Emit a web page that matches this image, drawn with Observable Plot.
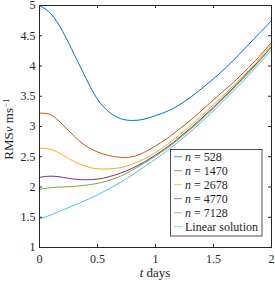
<!DOCTYPE html>
<html><head><meta charset="utf-8">
<script src="https://cdn.jsdelivr.net/npm/d3@7"></script>
<script src="https://cdn.jsdelivr.net/npm/@observablehq/plot@0.6"></script>
<style>html,body{margin:0;padding:0;background:#fff;}</style>
</head><body><div id="chart"></div>
<script>
const tDays = [0,0.1,0.2,0.3,0.4,0.5,0.6,0.7,0.8,0.9,1.0,1.1,1.2,1.3,1.4,1.5,1.6,1.7,1.8,1.9,2.0];
const n528  = [5.00,4.86,4.57,4.19,3.80,3.45,3.24,3.13,3.10,3.12,3.18,3.25,3.35,3.48,3.63,3.79,3.96,4.15,4.35,4.55,4.75];
const n1470 = [3.22,3.19,3.03,2.84,2.68,2.58,2.52,2.49,2.50,2.57,2.68,2.80,2.95,3.10,3.27,3.44,3.61,3.78,3.97,4.17,4.39];
const n2678 = [2.64,2.62,2.53,2.42,2.34,2.30,2.30,2.32,2.38,2.46,2.57,2.70,2.85,3.01,3.18,3.36,3.54,3.73,3.92,4.13,4.35];
const n4770 = [2.16,2.18,2.16,2.13,2.12,2.13,2.17,2.23,2.31,2.41,2.53,2.66,2.81,2.97,3.14,3.32,3.51,3.70,3.90,4.10,4.32];
const n7128 = [1.96,1.99,2.00,2.01,2.03,2.06,2.11,2.18,2.28,2.39,2.51,2.64,2.79,2.95,3.12,3.30,3.49,3.68,3.88,4.09,4.31];
const linearSol = [1.47,1.54,1.62,1.70,1.78,1.87,1.97,2.08,2.20,2.33,2.46,2.60,2.75,2.91,3.08,3.26,3.45,3.64,3.84,4.05,4.27];

const seriesValues = [n528, n1470, n2678, n4770, n7128, linearSol];
const seriesNames = ["n = 528","n = 1470","n = 2678","n = 4770","n = 7128","Linear solution"];
const seriesColors = ["#0072BD","#D95319","#EDB120","#7E2F8E","#77AC30","#4DBEEE"];
const xTicks = [0,0.5,1,1.5,2];
const yTicks = [1,1.5,2,2.5,3,3.5,4,4.5,5];

const W = 275, H = 282, mL = 39, mR = 4, mT = 5, mB = 35;
const fw = W - mL - mR, fh = H - mT - mB;
const ink = "#262626";
const font = "'Liberation Serif', 'DejaVu Serif', serif";

const data = [];
seriesValues.forEach((vals, i) => vals.forEach((v, j) => data.push({t: tDays[j], v, s: seriesNames[i]})));

const svgEl = Plot.plot({
  width: W, height: H, marginLeft: mL, marginRight: mR, marginTop: mT, marginBottom: mB,
  style: {fontFamily: font, fontSize: "12px", color: ink, background: "#fff"},
  x: {domain: [0, 2], label: null},
  y: {domain: [1, 5], label: null},
  color: {domain: seriesNames, range: seriesColors},
  marks: [
    Plot.axisX({ticks: xTicks, tickSize: 0, tickPadding: 7, label: null, tickFormat: d => String(d), fontSize: 12}),
    Plot.axisY({ticks: yTicks, tickSize: 0, tickPadding: 4, label: null, tickFormat: d => String(d), fontSize: 12}),
    Plot.line(data, {x: "t", y: "v", z: "s", stroke: "s", curve: "natural", strokeWidth: 1}),
    Plot.tickX(xTicks, {x: d => d, insetTop: fh - 3, stroke: ink}),
    Plot.tickX(xTicks, {x: d => d, insetBottom: fh - 3, stroke: ink}),
    Plot.tickY(yTicks, {y: d => d, insetRight: fw - 3, stroke: ink}),
    Plot.tickY(yTicks, {y: d => d, insetLeft: fw - 3, stroke: ink}),
    Plot.frame({stroke: ink, strokeWidth: 1})
  ]
});

const svg = d3.select(svgEl);
svg.selectAll("text").style("font-family", font).style("font-size", "12px");

// y label
const yl = svg.append("text")
  .attr("transform", `translate(13,${mT + fh / 2 + 3}) rotate(-90)`)
  .attr("text-anchor", "middle")
  .style("font-family", font).style("font-size", "13px").attr("fill", ink);
yl.append("tspan").text("RMS");
yl.append("tspan").attr("font-style", "italic").text("v");
yl.append("tspan").text(" ms");
yl.append("tspan").style("font-size", "9px").attr("dy", "-0.45em").text("\u22121");

// x label
const xl = svg.append("text")
  .attr("x", mL + fw / 2).attr("y", 277)
  .attr("text-anchor", "middle")
  .style("font-family", font).style("font-size", "13px").attr("fill", ink);
xl.append("tspan").attr("font-style", "italic").text("t");
xl.append("tspan").text(" days");

// legend
const lg = svg.append("g");
lg.append("rect").attr("x", 170.5).attr("y", 149.5).attr("width", 91.5).attr("height", 86.5)
  .attr("fill", "#fff").attr("stroke", ink).attr("stroke-width", 0.8);
seriesNames.forEach((name, i) => {
  const cy = 156.7 + i * 14;
  lg.append("line").attr("x1", 174).attr("x2", 182).attr("y1", cy).attr("y2", cy)
    .attr("stroke", seriesColors[i]).attr("stroke-width", 1).attr("stroke-opacity", 0.7);
  const tx = lg.append("text").attr("x", 185).attr("y", cy).attr("dy", "0.35em")
    .attr("text-anchor", "start")
    .style("font-family", font).style("font-size", "12px").attr("fill", ink);
  if (name.startsWith("n = ")) {
    tx.append("tspan").attr("font-style", "italic").text("n");
    tx.append("tspan").text(name.slice(1));
  } else {
    tx.text(name);
  }
});

document.getElementById("chart").appendChild(svgEl);
</script>
</body></html>
